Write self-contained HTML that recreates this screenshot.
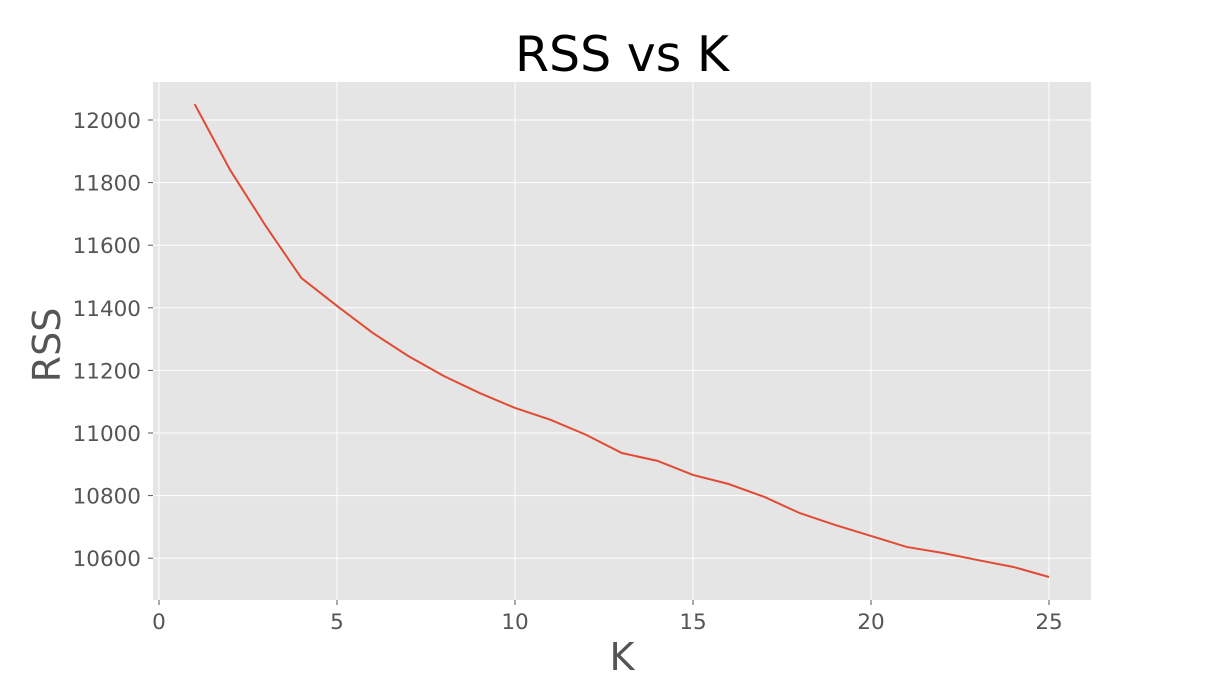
<!DOCTYPE html>
<html><head><meta charset="utf-8"><style>
html,body{margin:0;padding:0;background:#fff;}
svg{display:block;font-family:"DejaVu Sans","Liberation Sans",sans-serif;}
</style></head><body>
<svg id="chart" width="1213" height="675" viewBox="0 0 1213 675">
<rect x="153" y="82" width="938" height="518" fill="#e5e5e5"/>
<g id="grid"></g>
<g id="xticks"></g>
<g id="yticks"></g>
<path id="line" fill="none" stroke="#e24a33" stroke-width="2"/>
<text x="622" y="71" text-anchor="middle" font-size="49" fill="#000">RSS vs K</text>
<text x="622" y="670" text-anchor="middle" font-size="38" fill="#555">K</text>
<text transform="translate(60,345) rotate(-90)" text-anchor="middle" font-size="38" fill="#555">RSS</text>
</svg>
<script>
const kValues=[1,2,3,4,5,6,7,8,9,10,11,12,13,14,15,16,17,18,19,20,21,22,23,24,25];
const rssValues=[12051,11840,11661,11495,11406,11320,11246,11182,11128,11080,11042,10994,10936,10911,10866,10837,10796,10744,10706,10671,10636,10617,10594,10572,10540];
const xTickValues=[0,5,10,15,20,25];
const yTickValues=[10600,10800,11000,11200,11400,11600,11800,12000];
const NS="http://www.w3.org/2000/svg";
function xScale(v){return 159+(v-0)*35.6;}
function yScale(v){return 120+(12000-v)*0.313;}
const grid=document.getElementById('grid'),xt=document.getElementById('xticks'),yt=document.getElementById('yticks');
function mk(tag,attrs,parent){const e=document.createElementNS(NS,tag);for(const k in attrs)e.setAttribute(k,attrs[k]);parent.appendChild(e);return e;}
xTickValues.forEach(v=>{
  const x=xScale(v);
  const l=mk('line',{x1:x,x2:x,y1:82,y2:600,stroke:'#fff','stroke-width':1},grid);
  
  
  const t=mk('line',{x1:x,x2:x,y1:600,y2:605,stroke:'#555','stroke-width':1},xt);
  
  
  const s=mk('text',{x:x,y:629,'text-anchor':'middle','font-size':21.5,fill:'#555'},xt);
  s.textContent=v;
  
  
});
yTickValues.forEach(v=>{
  const y=yScale(v);
  const l=mk('line',{x1:153,x2:1091,y1:y,y2:y,stroke:'#fff','stroke-width':1},grid);
  
  
  const t=mk('line',{x1:148,x2:153,y1:y,y2:y,stroke:'#555','stroke-width':1},yt);
  
  
  const s=mk('text',{x:141,y:y+8,'text-anchor':'end','font-size':21.5,fill:'#555'},yt);
  s.textContent=v;
  
  
});
document.getElementById('line').setAttribute('d',kValues.map((k,i)=>(i?'L':'M')+xScale(k)+','+yScale(rssValues[i])).join(' '));
</script>
</body></html>
